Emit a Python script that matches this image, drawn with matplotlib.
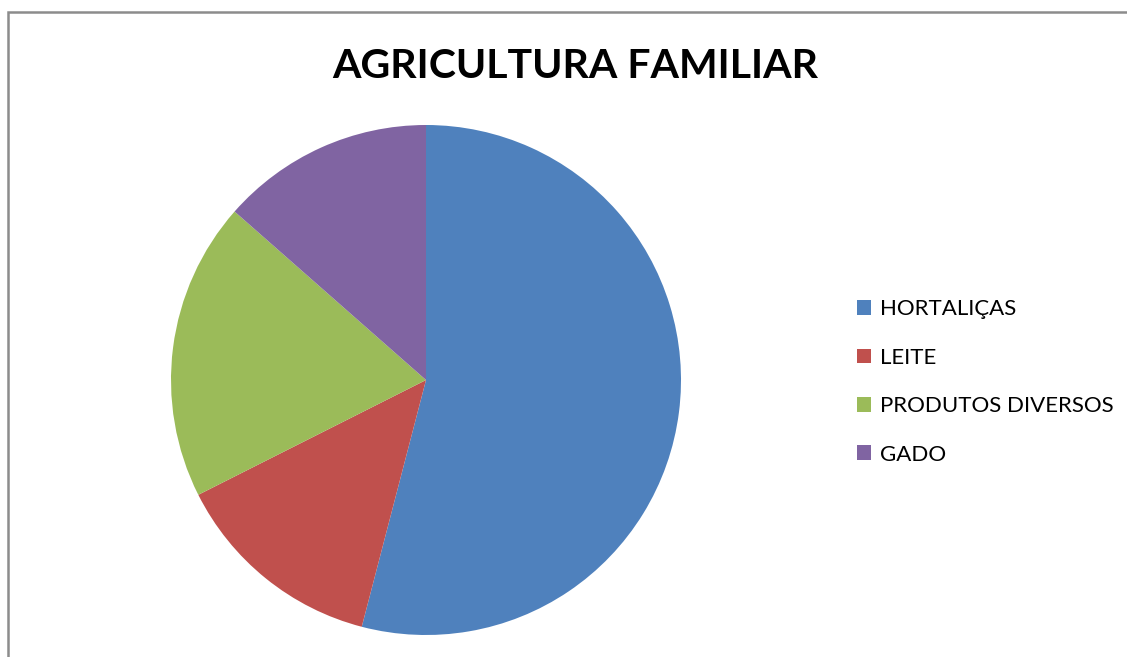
import matplotlib
matplotlib.use("Agg")
import matplotlib.pyplot as plt
from matplotlib.patches import Rectangle

categorias = ["HORTALIÇAS", "LEITE", "PRODUTOS DIVERSOS", "GADO"]
valores = [40, 10, 14, 10]
cores = ["#4F81BD", "#C0504D", "#9BBB59", "#8064A2"]

plt.rcParams['font.family'] = ['Lato', 'DejaVu Sans']

fig = plt.figure(figsize=(11.27, 6.57), dpi=100)

# moldura cinza do grafico
fig.patches.append(Rectangle((8 / 1127, -0.1), 1.2, (657 - 12) / 657 + 0.1,
                             transform=fig.transFigure, fill=False,
                             edgecolor="#8c8c8c", linewidth=1.8))

ax = fig.add_axes([171 / 1127, 22 / 657, 510 / 1127, 510 / 657])
wedges, _ = ax.pie(valores, colors=cores, startangle=90, counterclock=False,
                   radius=1.0)
ax.set_xlim(-1, 1)
ax.set_ylim(-1, 1)
ax.set_aspect("equal")

fig.text(575 / 1127, 1 - 66 / 657, "AGRICULTURA FAMILIAR", ha="center",
         va="center", fontsize=29.5, fontweight="bold")

fig.legend(wedges, categorias, loc="center left",
           bbox_to_anchor=(837 / 1127, 1 - 382 / 657), frameon=False,
           fontsize=16, handlelength=0.65, handleheight=0.65,
           handletextpad=0.4, labelspacing=1.28)

fig.savefig("out.png", dpi=100)
